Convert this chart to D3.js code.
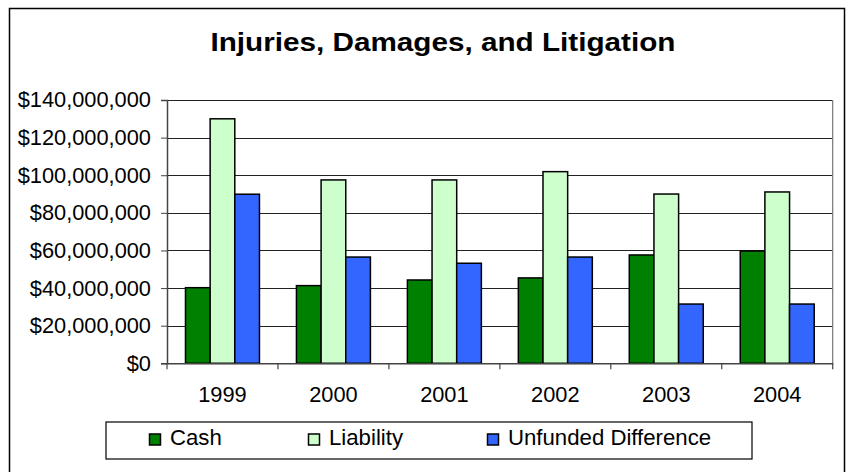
<!DOCTYPE html>
<html>
<head>
<meta charset="utf-8">
<script src="https://cdn.jsdelivr.net/npm/d3@7"></script>
<style>
  html, body { margin: 0; padding: 0; background: #fff; }
  svg { display: block; font-family: "Liberation Sans", Arial, sans-serif; }
</style>
</head>
<body>
<div id="chart"></div>
<script>
// Chart data
const years = ['1999', '2000', '2001', '2002', '2003', '2004'];
const seriesNames = ['Cash', 'Liability', 'Unfunded Difference'];
const cash = [40200000, 41300000, 44300000, 45400000, 57600000, 59700000];
const liability = [130000000, 97500000, 97500000, 101900000, 90000000, 91100000];
const unfunded = [89900000, 56500000, 53200000, 56500000, 31500000, 31500000];
const yTicks = [0, 20000000, 40000000, 60000000, 80000000, 100000000, 120000000, 140000000];
const colors = ['#008000', '#ccffcc', '#3366ff'];

const width = 848;
const height = 472;
const plot = { left: 167, top: 100, right: 832.7, bottom: 363.3 };
const labelSize = 21.8;

const svg = d3.select('#chart')
  .append('svg')
  .attr('width', width)
  .attr('height', height);

// Outer chart border
svg.append('rect')
  .attr('x', 9.5)
  .attr('y', 8.5)
  .attr('width', 835)
  .attr('height', 480)
  .attr('fill', '#fff')
  .attr('stroke', '#000')
  .attr('stroke-width', 1.5);

// Title
svg.append('text')
  .attr('x', 443)
  .attr('y', 51)
  .attr('text-anchor', 'middle')
  .attr('font-size', 26)
  .attr('font-weight', 'bold')
  .attr('textLength', 465)
  .attr('lengthAdjust', 'spacingAndGlyphs')
  .text('Injuries, Damages, and Litigation');

// Scales
const x0 = d3.scaleBand()
  .domain(years)
  .range([plot.left, plot.right]);

const barW = x0.bandwidth() / 4.5;
const x1 = d3.scaleBand()
  .domain(seriesNames)
  .range([barW * 0.75, barW * 3.75]);

const y = d3.scaleLinear()
  .domain([0, 140000000])
  .range([plot.bottom, plot.top]);

// Gridlines
svg.append('g')
  .selectAll('line')
  .data(yTicks.slice(1))
  .enter()
  .append('line')
  .attr('x1', plot.left)
  .attr('x2', plot.right)
  .attr('y1', d => Math.round(y(d)) + 0.5)
  .attr('y2', d => Math.round(y(d)) + 0.5)
  .attr('stroke', '#222')
  .attr('stroke-width', 1);

// Plot area right border
svg.append('line')
  .attr('x1', plot.right)
  .attr('x2', plot.right)
  .attr('y1', plot.top)
  .attr('y2', plot.bottom)
  .attr('stroke', '#777')
  .attr('stroke-width', 1.2);

// Bars
const table = years.map((yr, i) => ({
  year: yr,
  values: [cash[i], liability[i], unfunded[i]]
}));

const groups = svg.append('g')
  .selectAll('g')
  .data(table)
  .enter()
  .append('g')
  .attr('transform', d => `translate(${x0(d.year)},0)`);

groups.selectAll('rect')
  .data(d => d.values.map((v, k) => ({ name: seriesNames[k], value: v, k })))
  .enter()
  .append('rect')
  .attr('x', d => x1(d.name))
  .attr('y', d => y(d.value))
  .attr('width', x1.bandwidth())
  .attr('height', d => plot.bottom - y(d.value))
  .attr('fill', d => colors[d.k])
  .attr('stroke', '#000')
  .attr('stroke-width', 1.5);

// Y axis
const yAxis = d3.axisLeft(y)
  .tickValues(yTicks)
  .tickSize(6)
  .tickFormat(d => '$' + d3.format(',')(d));

const yG = svg.append('g')
  .attr('transform', `translate(${plot.left},0)`)
  .call(yAxis);
yG.select('.domain').attr('stroke', '#444').attr('stroke-width', 1.5);
yG.selectAll('.tick line').attr('stroke', '#444');
yG.selectAll('.tick text')
  .attr('x', -16)
  .attr('font-size', labelSize)
  .attr('font-family', '"Liberation Sans", Arial, sans-serif')
  .attr('fill', '#000');

// X axis
const xAxis = d3.axisBottom(x0)
  .tickSize(0)
  .tickSizeOuter(0);

const xG = svg.append('g')
  .attr('transform', `translate(0,${plot.bottom})`)
  .call(xAxis);
xG.select('.domain').attr('stroke', '#444').attr('stroke-width', 1.5);
xG.selectAll('.tick text')
  .attr('y', 39)
  .attr('dy', 0)
  .attr('font-size', labelSize)
  .attr('font-family', '"Liberation Sans", Arial, sans-serif')
  .attr('fill', '#000');

// Category separator ticks
xG.selectAll('.sep')
  .data(years.concat(['end']))
  .enter()
  .append('line')
  .attr('class', 'sep')
  .attr('x1', (d, i) => plot.left + i * x0.step())
  .attr('x2', (d, i) => plot.left + i * x0.step())
  .attr('y1', 0)
  .attr('y2', 6)
  .attr('stroke', '#444')
  .attr('stroke-width', 1.2);

// Legend
const legend = svg.append('g');
legend.append('rect')
  .attr('x', 106)
  .attr('y', 422)
  .attr('width', 646)
  .attr('height', 37)
  .attr('fill', '#fff')
  .attr('stroke', '#000')
  .attr('stroke-width', 1.2);

const legendX = [149, 308, 487];
const items = legend.selectAll('.item')
  .data(seriesNames)
  .enter()
  .append('g')
  .attr('class', 'item')
  .attr('transform', (d, i) => `translate(${legendX[i]},0)`);

items.append('rect')
  .attr('x', 0.5)
  .attr('y', 434)
  .attr('width', 11)
  .attr('height', 11)
  .attr('fill', (d, i) => colors[i])
  .attr('stroke', '#000')
  .attr('stroke-width', 1.5);

items.append('text')
  .attr('x', 21)
  .attr('y', 445)
  .attr('font-size', 22.2)
  .text(d => d);
</script>
</body>
</html>
